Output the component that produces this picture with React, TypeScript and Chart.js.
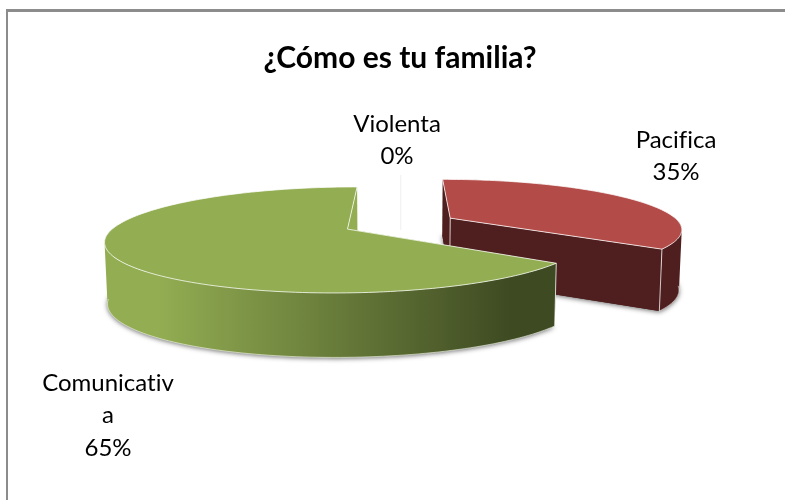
import React, { useEffect, useRef } from "react";
import { Chart, registerables } from "chart.js";

Chart.register(...registerables);

const categories = ["Pacifica", "Comunicativa", "Violenta"];
const values = [35, 65, 0];
const topColors = ["#b34b48", "#92ad52", "#e9e9e9"];
const wallStart = ["#4e1f1e", "#92ad52", "#efefef"];
const wallEnd = ["#4e1f1e", "#3e4a22", "#efefef"];
const sideColors = ["#4e1f1e", "#92ad52", "#efefef"];
const titleText = "¿Cómo es tu familia?";
const labelCentres = [
  { x: 676, y: 140 },
  { x: 108, y: 383 },
  { x: 397, y: 124 },
];

const CANVAS_LEFT = 15;
const FONT = "Lato";
const LABEL_SIZE = 24;
const LINE_GAP = 32.7;
const TILT = 0.211;
const PERSPECTIVE = 0.2;

function wrap(ctx: CanvasRenderingContext2D, text: string, maxWidth: number) {
  const lines: string[] = [];
  let cur = "";
  for (const ch of text) {
    if (ctx.measureText(cur + ch).width > maxWidth && cur) {
      lines.push(cur);
      cur = ch;
    } else cur += ch;
  }
  if (cur) lines.push(cur);
  return lines;
}

const pie3d = {
  id: "pie3d",
  beforeDatasetDraw(chart: any) {
    const ctx: CanvasRenderingContext2D = chart.ctx;
    const meta = chart.getDatasetMeta(0);
    const arcs = meta.data.map((a: any, i: number) => ({ a, i }));
    const mid = (a: any) => (a.startAngle + a.endAngle) / 2;
    arcs.sort((p: any, q: any) => Math.sin(mid(p.a)) - Math.sin(mid(q.a)));

    for (const { a, i } of arcs) {
      const R = a.outerRadius;
      const A = R * TILT;
      const cx = a.x;
      const cy = a.y;
      const e = a.options.offset / R;
      const m = mid(a);
      const eu = e * Math.cos(m);
      const ev = e * Math.sin(m);
      const project = (u: number, v: number) => {
        const s = 1 / (1 - PERSPECTIVE * v);
        return { x: cx + R * u * s, y: cy + A * v * s, v };
      };
      const drop = (p: { x: number; y: number; v: number }) => ({
        x: cx + (p.x - cx) * 0.99,
        y: p.y + 60 + 4 * p.v,
        v: p.v,
      });
      const rim: { x: number; y: number; v: number }[] = [];
      const sins: number[] = [];
      const steps = Math.max(1, Math.ceil((a.endAngle - a.startAngle) * 40));
      for (let k = 0; k <= steps; k++) {
        const t = a.startAngle + ((a.endAngle - a.startAngle) * k) / steps;
        rim.push(project(eu + Math.cos(t), ev + Math.sin(t)));
        sins.push(Math.sin(t));
      }
      const apex = project(eu, ev);
      const rimLow = rim.map(drop);
      const apexLow = drop(apex);
      const addPoly = (pts: { x: number; y: number }[]) => {
        pts.forEach((p, n) => (n ? ctx.lineTo(p.x, p.y) : ctx.moveTo(p.x, p.y)));
        ctx.closePath();
      };
      const path = (pts: { x: number; y: number }[]) => {
        ctx.beginPath();
        addPoly(pts);
      };

      ctx.save();
      if (values[i] === 0) {
        ctx.strokeStyle = sideColors[i];
        ctx.lineWidth = 1;
        ctx.beginPath();
        ctx.moveTo(rim[0].x, rim[0].y);
        ctx.lineTo(rimLow[0].x, rimLow[0].y);
        ctx.stroke();
        ctx.restore();
        continue;
      }
      // soft shadow under the slice
      ctx.save();
      ctx.shadowColor = "rgba(0,0,0,0.6)";
      ctx.shadowBlur = 5;
      ctx.shadowOffsetY = 1;
      ctx.fillStyle = sideColors[i];
      path([apexLow, ...rimLow]);
      ctx.fill();
      ctx.restore();

      // cut faces
      ctx.fillStyle = sideColors[i];
      path([apex, rim[0], rimLow[0], apexLow]);
      ctx.fill();
      path([apex, rim[rim.length - 1], rimLow[rimLow.length - 1], apexLow]);
      ctx.fill();

      // outer wall: only the segments that face the viewer, all wound the same way
      const xs = rim.map((p) => p.x);
      const minX = Math.min(...xs);
      const maxX = Math.max(...xs);
      const grad = ctx.createLinearGradient(minX, 0, maxX, 0);
      grad.addColorStop(0, wallStart[i]);
      grad.addColorStop(0.12, wallStart[i]);
      grad.addColorStop(0.9, wallEnd[i]);
      grad.addColorStop(1, wallEnd[i]);
      ctx.fillStyle = grad;
      ctx.beginPath();
      for (let k = 0; k < steps; k++) {
        if (sins[k] <= 0 && sins[k + 1] <= 0) continue;
        const q = [rim[k], rim[k + 1], rimLow[k + 1], rimLow[k]];
        const area =
          (q[1].x - q[0].x) * (q[2].y - q[0].y) - (q[1].y - q[0].y) * (q[2].x - q[0].x);
        addPoly(area > 0 ? q : [...q].reverse());
      }
      ctx.fill();

      // lower rim highlight
      ctx.strokeStyle = "rgba(255,255,255,0.55)";
      ctx.lineWidth = 1;
      ctx.beginPath();
      let open = false;
      rimLow.forEach((p, n) => {
        if (sins[n] < 0.15) {
          open = false;
          return;
        }
        if (open) ctx.lineTo(p.x, p.y);
        else ctx.moveTo(p.x, p.y);
        open = true;
      });
      ctx.stroke();

      // top face
      ctx.fillStyle = a.options.backgroundColor;
      path([apex, ...rim]);
      ctx.fill();
      ctx.strokeStyle = "rgba(255,255,255,0.75)";
      ctx.stroke();

      // vertical edges that face the viewer
      ctx.beginPath();
      for (const k of [0, rim.length - 1]) {
        if (sins[k] < 0) continue;
        ctx.moveTo(rim[k].x, rim[k].y);
        ctx.lineTo(rimLow[k].x, rimLow[k].y);
      }
      if (Math.sin(m) < 0) {
        ctx.moveTo(apex.x, apex.y);
        ctx.lineTo(apexLow.x, apexLow.y);
      }
      ctx.stroke();
      ctx.restore();
    }
    return false;
  },
  afterDraw(chart: any) {
    const ctx: any = chart.ctx;
    const total = values.reduce((s, v) => s + v, 0);
    ctx.save();
    ctx.font = `${LABEL_SIZE}px ${FONT}`;
    ctx.textRendering = "optimizeSpeed";
    ctx.fillStyle = "#000";
    ctx.textAlign = "center";
    ctx.textBaseline = "middle";
    categories.forEach((c, i) => {
      const lines = [...wrap(ctx, c, 136), `${Math.round((values[i] / total) * 100)}%`];
      lines.forEach((l, n) => {
        ctx.fillText(l, labelCentres[i].x - CANVAS_LEFT, labelCentres[i].y + n * LINE_GAP);
      });
    });
    ctx.restore();
  },
};

export default function App() {
  const ref = useRef<HTMLCanvasElement>(null);
  useEffect(() => {
    document.body.style.margin = "0";
    const chart = new Chart(ref.current!, {
      type: "pie",
      data: {
        labels: categories,
        datasets: [
          {
            data: values,
            backgroundColor: topColors,
            borderWidth: 0,
            offset: 57.5,
          },
        ],
      },
      options: {
        responsive: false,
        animation: false,
        rotation: 0.2,
        radius: 230,
        events: [],
        layout: { padding: { bottom: 133 } },
        plugins: {
          legend: { display: false },
          tooltip: { enabled: false },
          title: {
            display: true,
            text: titleText,
            color: "#000",
            font: { family: FONT, size: 30, weight: "bold" },
            padding: { top: 40, bottom: 4 },
          },
        },
      },
      plugins: [pie3d],
    } as any);
    return () => chart.destroy();
  }, []);
  return (
    <div style={{ position: "absolute", left: 0, top: 0, width: 785, height: 500, overflow: "hidden", background: "#fff" }}>
      <div
        style={{
          position: "absolute",
          left: 6,
          top: 9,
          right: -10,
          bottom: -10,
          borderLeft: "2px solid #8c8c8c",
          borderTop: "3px solid #8c8c8c",
        }}
      />
      <canvas
        ref={ref}
        width={770}
        height={500}
        style={{ position: "absolute", left: CANVAS_LEFT, top: 0, width: 770, height: 500 }}
      />
    </div>
  );
}
